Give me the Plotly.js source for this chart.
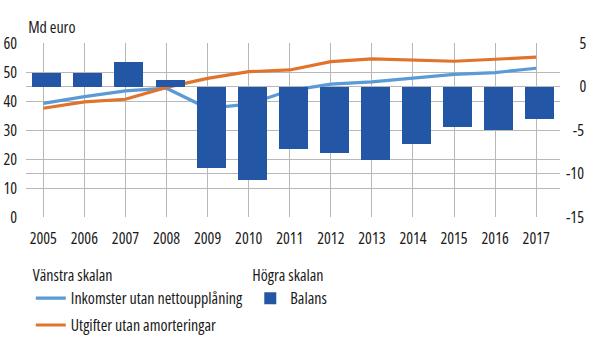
<!DOCTYPE html>
<html><head><meta charset="utf-8">
<script src="https://cdn.plot.ly/plotly-3.0.1.min.js"></script>
<style>html,body{margin:0;padding:0;background:#fff}#chart{width:591px;height:342px}
text{font-stretch:condensed !important;}</style>
</head><body><div id="chart"></div>
<script>
const years = ["2005","2006","2007","2008","2009","2010","2011","2012","2013","2014","2015","2016","2017"];
const inkomster = [39.2, 41.5, 43.5, 44.4, 37.5, 38.9, 43.6, 45.8, 46.6, 47.8, 49.2, 49.8, 51.3];
const utgifter  = [37.5, 39.7, 40.6, 44.7, 47.8, 50.1, 50.7, 53.6, 54.5, 54.1, 53.7, 54.4, 55.1];
const balans    = [1.5, 1.5, 2.8, 0.7, -9.4, -10.8, -7.2, -7.7, -8.4, -6.6, -4.7, -5.0, -3.7];
const leftTicks = [0, 10, 20, 30, 40, 50, 60];
const rightTickVals = [5, 0, -5, -10, -15];
const rightTickText = ["\u2007\u20075", "\u2007\u20070", "\u2007-5", "-10", "-15"];
const seriesNames = ["Inkomster utan nettoupplåning", "Utgifter utan amorteringar", "Balans"];
const legendTitles = ["Vänstra skalan", "Högra skalan"];
const unitLabel = "Md euro";

const FONT = '"Open Sans", "Roboto", sans-serif';
const GRID = '#b8b8b8';

const data = [
  {type:'bar', x: years, y: balans, name: seriesNames[2], yaxis:'y2', xaxis:'x',
   marker:{color:'#2356a5'}, width:0.706, offset:-0.268, legend:'legend2', showlegend:true},
  {type:'scatter', mode:'lines', x: years, y: inkomster, name: seriesNames[0], legendgroup:'a',
   line:{color:'#5b9bd5', width:3.2}, legend:'legend'},
  {type:'scatter', mode:'lines', x: years, y: utgifter, name: seriesNames[1], legendgroup:'b',
   line:{color:'#e0742c', width:3.2}, legend:'legend'}
];

const layout = {
  width:591, height:342,
  margin:{l:26, r:31, t:43, b:125.3, pad:0, autoexpand:false},
  paper_bgcolor:'#fff', plot_bgcolor:'#fff',
  font:{family:FONT, size:16, color:'#1a1a1a'},
  title:{text:unitLabel, font:{size:16, color:'#1a1a1a'}, xref:'paper', x:0.004, xanchor:'left',
    yref:'container', y:0.921, yanchor:'middle', pad:{t:0, b:0, l:0, r:0}},
  bargap:0,
  xaxis:{type:'category', range:[-0.421, 12.579], showgrid:true, gridcolor:GRID, gridwidth:1, automargin:false,
    zeroline:false, showline:false, ticks:'', tickfont:{size:16}, ticklabelstandoff:10, fixedrange:true},
  yaxis:{range:[0,60], tickvals:leftTicks, showgrid:true, gridcolor:GRID, gridwidth:1, zeroline:false, automargin:false,
    showline:false, ticks:'', ticklabelstandoff:8, tickfont:{size:16}},
  yaxis2:{range:[-15,5], overlaying:'y', side:'right', tickvals:rightTickVals, ticktext:rightTickText, automargin:false,
    showgrid:true, gridcolor:GRID, gridwidth:1, zeroline:false, showline:false, ticks:'',
    ticklabelstandoff:5, tickfont:{size:16}},
  legend:{title:{text:legendTitles[0], font:{size:16}}, x:0.009, xanchor:'left', y:-0.25, yanchor:'top',
    orientation:'v', bgcolor:'rgba(0,0,0,0)', font:{size:16}, traceorder:'grouped', tracegroupgap:3,
    itemwidth:30},
  legend2:{title:{text:legendTitles[1], font:{size:16}}, x:0.42, xanchor:'left', y:-0.25, yanchor:'top',
    orientation:'v', bgcolor:'rgba(0,0,0,0)', font:{size:16}, itemwidth:30}
};

Plotly.newPlot('chart', data, layout, {displayModeBar:false, staticPlot:true});
</script></body></html>
